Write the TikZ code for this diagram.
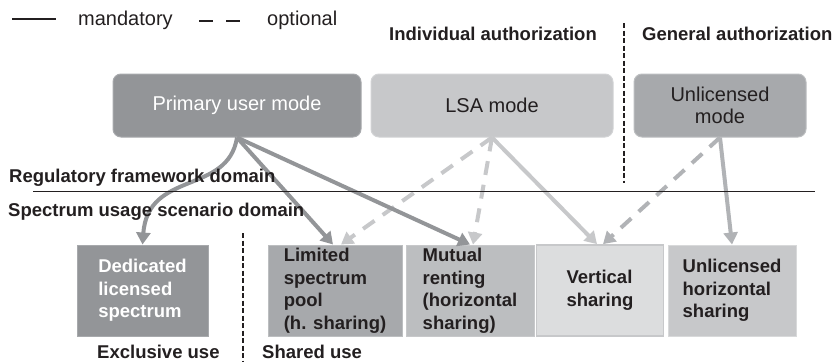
\documentclass[tikz,border=0pt]{standalone}
\usepackage{fontspec}
\setmainfont{Liberation Sans}
\usetikzlibrary{arrows.meta}
\definecolor{gA}{HTML}{939598}
\definecolor{gB}{HTML}{A7A9AC}
\definecolor{gC}{HTML}{BCBEC0}
\definecolor{gD}{HTML}{C7C8CA}
\definecolor{gE}{HTML}{DCDDDE}
\definecolor{gU}{HTML}{B1B3B6}
\definecolor{tx}{HTML}{231F20}
\tikzset{
  topbox/.style={rounded corners=8pt, minimum height=63pt, inner sep=0pt, align=center,
    font=\fontsize{20}{22}\selectfont, text=tx, line width=1pt},
  botbox/.style={minimum height=91pt, inner sep=0pt, align=left,
    font=\bfseries\fontsize{18.5}{22.5}\selectfont, text=tx, line width=1pt},
  hdr/.style={font=\bfseries\fontsize{18.5}{22}\selectfont, text=tx, inner sep=0pt, anchor=base west},
  legtext/.style={font=\fontsize{20}{22}\selectfont, text=tx, inner sep=0pt, anchor=base west},
  arrowline/.style={line width=4pt, -{Triangle[length=12pt,width=14pt]}},
  optline/.style={arrowline, dash pattern=on 14pt off 10pt},
  divider/.style={line width=1.2pt, tx, dash pattern=on 5pt off 2.5pt},
}
\begin{document}
\begin{tikzpicture}[x=1pt,y=-1pt]
\useasboundingbox (0,0) rectangle (837,362);

% legend
\coordinate (l1a) at (12,19);
\coordinate (l1b) at (56,19);
\draw[tx, line width=1.6pt] (l1a) -- (l1b);
\node[legtext] (lmand) at (78,25) {mandatory};
\coordinate (l2a) at (199,21);
\coordinate (l2b) at (240,21);
\draw[tx, line width=2pt, dash pattern=on 14pt off 13pt] (l2a) -- (l2b);
\node[legtext] (lopt) at (267,25) {optional};

% top boxes
\node[topbox, fill=gA, draw=gB, text=white, minimum width=248pt] (pu) at (237,105.5) {Primary user mode};
\node[topbox, fill=gD, draw=gD!80!white, minimum width=242pt] (lsa) at (492,105.5) {LSA mode};
\node[topbox, fill=gB, draw=gC, minimum width=172pt] (um) at (720,105.5) {Unlicensed\\mode};

% bottom boxes
\node[botbox, fill=gA, draw=gB, text=white, minimum width=131pt] (ded) at (142.5,290.5) {Dedicated\\licensed\\spectrum};
\node[botbox, fill=gB, draw=gC, minimum width=134pt] (lim) at (335,290.5) {Limited\\spectrum\\pool\\(h. sharing)};
\node[botbox, fill=gC, draw=gD, minimum width=128pt] (mut) at (470,290.5) {Mutual\\renting\\(horizontal\\sharing)};
\node[botbox, fill=gE, draw=gD, line width=1.8pt, minimum width=127pt] (ver) at (600,290.5) {Vertical\\sharing};
\node[botbox, fill=gD, draw=gD!70!white, minimum width=128pt] (uh) at (732,290.5) {Unlicensed\\horizontal\\sharing};

% optional (dashed) connectors
\draw[optline, gD] (lsa.south) -- ([xshift=6pt]lim.north);
\draw[optline, gD] (lsa.south) -- ([xshift=3pt]mut.north);
\draw[optline, gU] (um.south) -- ([xshift=3pt]ver.north);

% mandatory connectors
\draw[arrowline, gD] (lsa.south) -- ([xshift=-3pt]ver.north);
\draw[arrowline, gU] (um.south) -- (uh.north);
\draw[arrowline, gA] (pu.south) .. controls (228,195) and (148,170) .. (ded.north);
\draw[arrowline, gA] (pu.south) -- ([xshift=-2pt]lim.north);
\draw[arrowline, gA] (pu.south) -- (mut.north);

% domain separator and labels
\coordinate (rA) at (33,191.5);
\coordinate (rB) at (815,191.5);
\draw[tx, line width=1.6pt] (rA) -- (rB);
\node[hdr] (hind) at (389,40) {Individual authorization};
\node[hdr] (hgen) at (642,40) {General authorization};
\node[hdr] (hreg) at (9,182) {Regulatory framework domain};
\node[hdr] (hspec) at (8,216) {Spectrum usage scenario domain};
\node[hdr] (hexc) at (97,358.5) {Exclusive use};
\node[hdr] (hsh) at (262,358.5) {Shared use};

% dividers
\coordinate (d1a) at (624,23);
\coordinate (d1b) at (624,183);
\draw[divider] (d1a) -- (d1b);
\coordinate (d2a) at (243,233);
\coordinate (d2b) at (243,362);
\draw[divider] (d2a) -- (d2b);
\end{tikzpicture}
\end{document}
